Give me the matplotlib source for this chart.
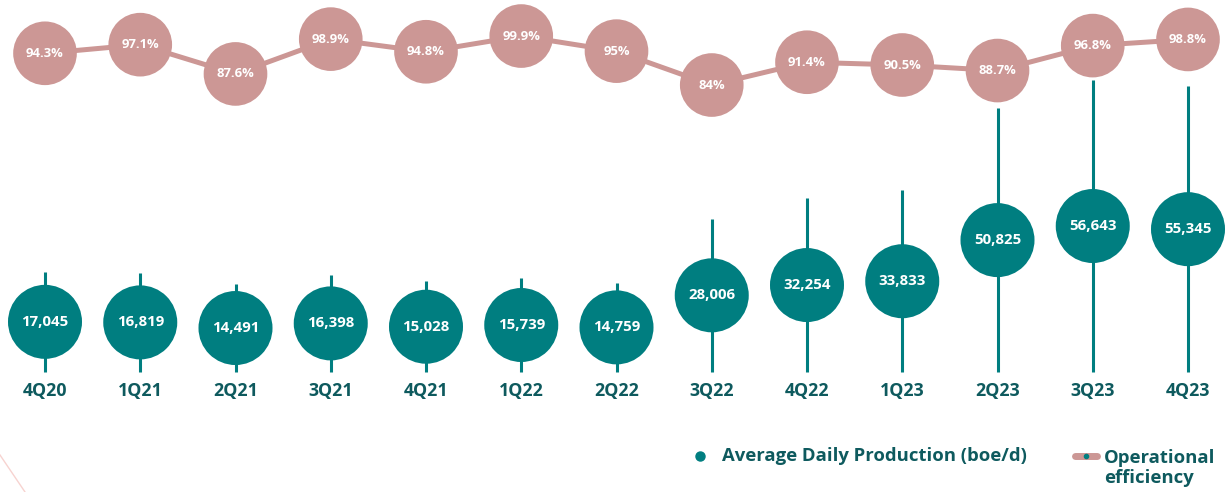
import matplotlib.pyplot as plt
from matplotlib.lines import Line2D
import matplotlib.transforms as mtransforms

plt.rcParams["font.family"] = ["Open Sans", "DejaVu Sans"]

QUARTERS = ["4Q20", "1Q21", "2Q21", "3Q21", "4Q21", "1Q22", "2Q22",
            "3Q22", "4Q22", "1Q23", "2Q23", "3Q23", "4Q23"]
PRODUCTION = [17045, 16819, 14491, 16398, 15028, 15739, 14759,
              28006, 32254, 33833, 50825, 56643, 55345]
EFFICIENCY = [94.3, 97.1, 87.6, 98.9, 94.8, 99.9, 95.0,
              84.0, 91.4, 90.5, 88.7, 96.8, 98.8]
EFF_LABELS = ["94.3%", "97.1%", "87.6%", "98.9%", "94.8%", "99.9%", "95%",
              "84%", "91.4%", "90.5%", "88.7%", "96.8%", "98.8%"]

TEAL = "#007E80"
PINK = "#CC9795"
DARK = "#0E5A5E"
STEM_BASE = -3680  # stems start a bit below zero so the circle sits mid-stem

W, H = 1226, 492
fig = plt.figure(figsize=(W / 100, H / 100), dpi=100)
ax = fig.add_axes([0, 0, 1, 1])
ax.set_xlim(-45 / 95.25, 12 + 38 / 95.25)
ax.set_ylim(-53267, 150039)
ax.axis("off")

ax_eff = ax.twinx()
ax_eff.set_ylim(-48.1, 111.6)
ax_eff.axis("off")

x = list(range(len(QUARTERS)))

# production: stems + circles
for i, v in zip(x, PRODUCTION):
    ax.plot([i, i], [STEM_BASE, 2 * v - STEM_BASE], color=TEAL, lw=2.2,
            solid_capstyle="butt", zorder=1)
ax.scatter(x, PRODUCTION, s=2840, color=TEAL, edgecolors="none", zorder=2)
for i, v in zip(x, PRODUCTION):
    ax.text(i, v, f"{v:,}", color="white", fontsize=10.8, fontweight="bold",
            ha="center", va="center", zorder=3)

# efficiency line + circles
ax_eff.plot(x, EFFICIENCY, color=PINK, lw=3.6, zorder=1)
ax_eff.scatter(x, EFFICIENCY, s=2100, color=PINK, edgecolors="none", zorder=2)
for i, v, lab in zip(x, EFFICIENCY, EFF_LABELS):
    ax_eff.text(i, v, lab, color="white", fontsize=9.4, fontweight="bold",
                ha="center", va="center", zorder=3)

# category labels
trans = mtransforms.blended_transform_factory(ax.transData, fig.transFigure)
for i, q in zip(x, QUARTERS):
    ax.text(i, 1 - 391 / H, q, transform=trans, color=DARK, fontsize=12.8,
            fontweight="bold", ha="center", va="center")

# legend
fig.add_artist(Line2D([700 / W], [1 - 456 / H], transform=fig.transFigure,
                      marker="o", markersize=6.5, color=TEAL, lw=0))
fig.text(722 / W, 1 - 456 / H, "Average Daily Production (boe/d)", color=DARK,
         fontsize=13.3, fontweight="bold", ha="left", va="center")
fig.add_artist(Line2D([1075 / W, 1097 / W], [1 - 456 / H, 1 - 456 / H],
                      transform=fig.transFigure, color=PINK, lw=5,
                      solid_capstyle="round"))
fig.add_artist(Line2D([1086 / W], [1 - 456 / H], transform=fig.transFigure,
                      marker="o", markersize=3, color=TEAL, lw=0))
fig.text(1104 / W, 1 - 468 / H, "Operational\nefficiency", color=DARK,
         fontsize=13.3, fontweight="bold", ha="left", va="center",
         linespacing=1.2)

# faint decorative stroke bottom-left
fig.add_artist(Line2D([0, 25 / W], [1 - 455 / H, 0], transform=fig.transFigure,
                      color="#F7D3D0", lw=1))

fig.savefig("out.png", dpi=100)
